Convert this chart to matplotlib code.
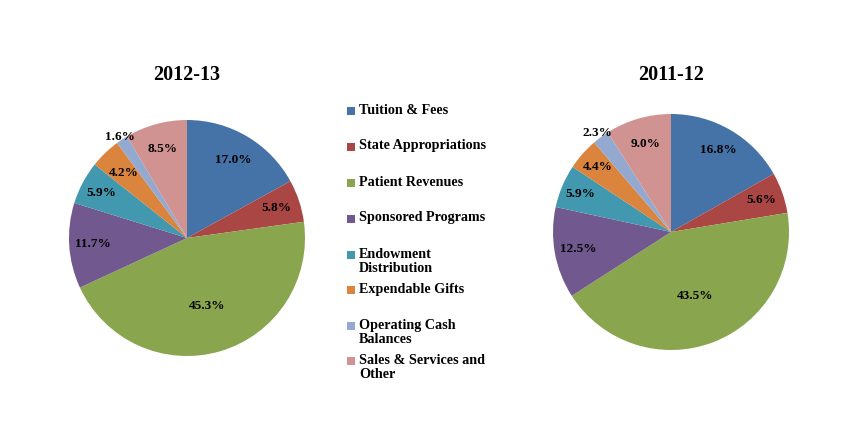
import numpy as np
import matplotlib
matplotlib.use("Agg")
import matplotlib.pyplot as plt
from matplotlib.patches import Rectangle

plt.rcParams['font.family'] = ['Liberation Serif', 'DejaVu Serif']
plt.rcParams['font.weight'] = 'bold'

# categories and shares (percent)
categories = ["Tuition & Fees", "State Appropriations", "Patient Revenues",
              "Sponsored Programs", "Endowment\nDistribution", "Expendable Gifts",
              "Operating Cash\nBalances", "Sales & Services and\nOther"]
share_1213 = [17.0, 5.8, 45.3, 11.7, 5.9, 4.2, 1.6, 8.5]
share_1112 = [16.8, 5.6, 43.5, 12.5, 5.9, 4.4, 2.3, 9.0]

colors = ["#4572A7", "#AA4643", "#89A54E", "#71588F",
          "#4198AF", "#DB843D", "#93A9CF", "#D19392"]

# radial placement of the value labels (fraction of radius)
label_dist_1213 = [0.77, 0.80, 0.60, 0.80, 0.82, 0.77, 1.03, 0.78]
label_dist_1112 = [0.80, 0.81, 0.58, 0.80, 0.83, 0.83, 1.04, 0.78]

W, H = 843, 430
fig = plt.figure(figsize=(W / 100, H / 100), dpi=100)
R = 118


def draw_pie(cx, cy, values, dists, title):
    ax = fig.add_axes([(cx - R) / W, (H - cy - R) / H, 2 * R / W, 2 * R / H])
    wedges, texts, autotexts = ax.pie(
        values, colors=colors, startangle=90, counterclock=False,
        radius=1.0, autopct=lambda p: "", pctdistance=0.8,
        wedgeprops=dict(linewidth=0))
    for w, v, d, t in zip(wedges, values, dists, autotexts):
        ang = np.deg2rad((w.theta1 + w.theta2) / 2)
        t.set_position((d * np.cos(ang), d * np.sin(ang)))
        t.set_text(f"{v:.1f}%")
        t.set_fontsize(9.5)
        t.set_fontweight('bold')
        t.set_color('black')
    ax.set_xlim(-1, 1)
    ax.set_ylim(-1, 1)
    ax.axis('off')
    fig.text(cx / W, 1 - 75 / H, title, ha='center', va='center',
             fontsize=14.5, fontweight='bold')


draw_pie(187, 238, share_1213, label_dist_1213, "2012-13")
draw_pie(671, 232, share_1112, label_dist_1112, "2011-12")

# legend
row_y = [111, 147, 183, 219, 255, 290, 326, 361]
for lab, col, y in zip(categories, colors, row_y):
    fig.patches.append(Rectangle((347 / W, 1 - (y + 4) / H), 8 / W, 8 / H,
                                 transform=fig.transFigure, facecolor=col,
                                 edgecolor='none'))
    fig.text(359 / W, 1 - (y - 7.5) / H, lab, ha='left', va='top',
             multialignment='left', fontsize=10.2, fontweight='bold',
             linespacing=1.15)

fig.savefig("out.png", dpi=100)
